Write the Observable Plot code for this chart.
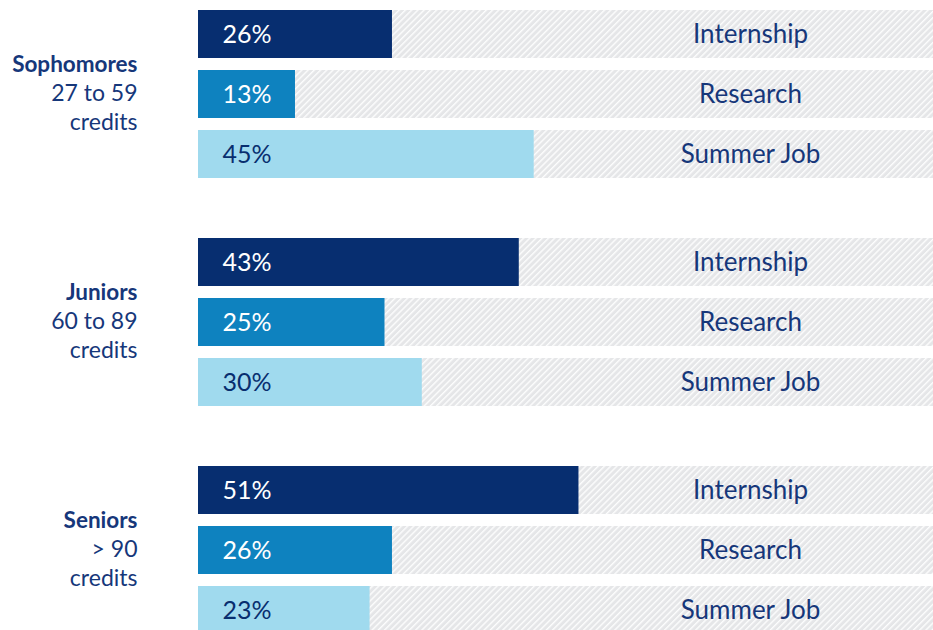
<!DOCTYPE html>
<html>
<head>
<meta charset="utf-8">
<script src="https://cdn.jsdelivr.net/npm/d3@7"></script>
<script src="https://cdn.jsdelivr.net/npm/@observablehq/plot@0.6"></script>
<style>
  html, body { margin: 0; padding: 0; background: #fff; overflow: hidden; }
  #chart svg { display: block; }
</style>
</head>
<body>
<div id="chart"></div>
<script>
// ---- Data ----
const groups = ["Sophomores", "Juniors", "Seniors"];
const groupSubtitles = ["27 to 59\ncredits", "60 to 89\ncredits", "> 90\ncredits"];
const types = ["Internship", "Research", "Summer Job"];
const sophomores = [26, 13, 45];
const juniors = [43, 25, 30];
const seniors = [51, 26, 23];
const fullScale = 100;

const values = [sophomores, juniors, seniors];
const rows = groups.flatMap((g, gi) => types.map((t, ti) => ({group: g, type: t, value: values[gi][ti]})));
const groupRows = groups.map((g, gi) => ({group: g, sub: groupSubtitles[gi]}));

const navy = "#082E6F";
const textNavy = "#16377A";
const colors = ["#072E70", "#0E82BF", "#A0DAEE"];
const font = "Lato, 'Open Sans', sans-serif";

const chart = Plot.plot({
  width: 933,
  height: 630,
  margin: 0,
  style: {fontFamily: font, background: "#fff"},
  x: {domain: [0, fullScale], range: [198, 944], axis: null},
  y: {domain: types, paddingInner: 0.2, paddingOuter: 0, axis: null},
  fy: {domain: groups, range: [10, 634], paddingInner: 60 / 228, paddingOuter: 0, axis: null},
  color: {domain: types, range: colors},
  marks: [
    Plot.barX(rows, {x1: () => 0, x2: () => fullScale, y: "type", fy: "group", fill: "url(#hatch)"}),
    Plot.barX(rows, {x: "value", y: "type", fy: "group", fill: "type"}),
    Plot.text(rows.filter(d => d.type !== "Summer Job"), {
      x: () => 0, y: "type", fy: "group", text: d => d.value + "%",
      dx: 24, textAnchor: "start", fill: "#ffffff", fontSize: 25
    }),
    Plot.text(rows.filter(d => d.type === "Summer Job"), {
      x: () => 0, y: "type", fy: "group", text: d => d.value + "%",
      dx: 24, textAnchor: "start", fill: navy, fontSize: 25
    }),
    Plot.text(rows, {
      y: "type", fy: "group", text: "type", frameAnchor: "right", dx: -183,
      textAnchor: "middle", fill: textNavy, fontSize: 26
    }),
    Plot.text(groupRows, {
      fy: "group", text: "group", frameAnchor: "left", dx: 137, dy: -30,
      textAnchor: "end", fill: textNavy, fontSize: 22.5, fontWeight: "bold"
    }),
    Plot.text(groupRows, {
      fy: "group", text: "sub", frameAnchor: "left", dx: 137, dy: 11.5,
      lineHeight: 29 / 23, textAnchor: "end", fill: textNavy, fontSize: 23
    })
  ]
});

const svg = d3.select(chart);
const defs = svg.insert("defs", ":first-child");
const pat = defs.append("pattern")
  .attr("id", "hatch")
  .attr("patternUnits", "userSpaceOnUse")
  .attr("width", 4.4)
  .attr("height", 4.4)
  .attr("patternTransform", "rotate(45)");
pat.append("rect").attr("width", 4.4).attr("height", 4.4).attr("fill", "#E5E6E8");
pat.append("rect").attr("width", 1.4).attr("height", 4.4).attr("fill", "#ffffff").attr("fill-opacity", 0.9);

document.getElementById("chart").appendChild(chart);
</script>
</body>
</html>
